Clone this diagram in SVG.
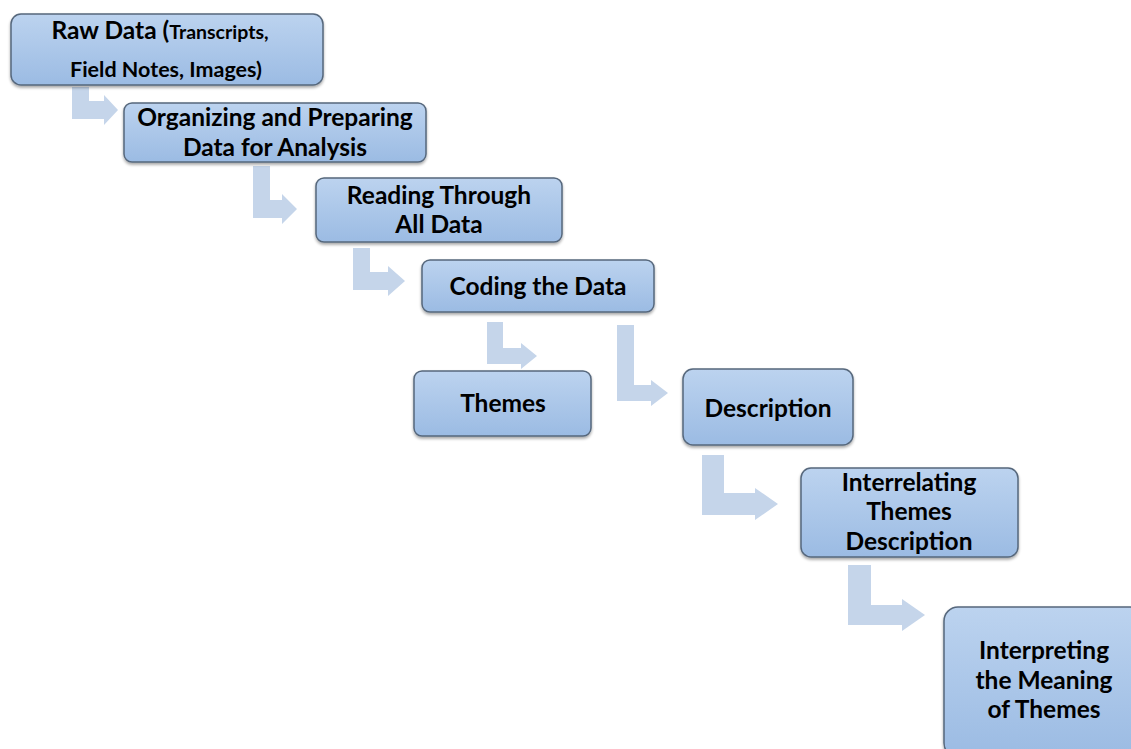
<svg xmlns="http://www.w3.org/2000/svg" width="1131" height="749" viewBox="0 0 1131 749">
<defs>
<linearGradient id="g" x1="0" y1="0" x2="0" y2="1">
<stop offset="0" stop-color="#bcd3ef"/>
<stop offset="1" stop-color="#9bbbe3"/>
</linearGradient>
<filter id="sh" x="-10%" y="-10%" width="120%" height="130%">
<feGaussianBlur in="SourceAlpha" stdDeviation="1.5"/>
<feOffset dx="0" dy="2" result="b"/>
<feComponentTransfer><feFuncA type="linear" slope="0.35"/></feComponentTransfer>
<feMerge><feMergeNode/><feMergeNode in="SourceGraphic"/></feMerge>
</filter>
</defs>
<style>
.box{fill:url(#g);stroke:#56677c;stroke-width:1.5;filter:url(#sh)}
.t{font-family:Lato,"Open Sans",sans-serif;font-weight:bold;font-size:24.5px;fill:#000;text-anchor:middle}
.s{font-size:19.5px}
.m{font-size:21.5px}
.arr{fill:#c5d5ea}
</style>
<rect width="1131" height="749" fill="#fff"/>
<g id="connectors">
<path class="arr" d="M72,87 H89 V101 H104 V95 L118,110 L104,125 V119 H72 Z"/>
<path class="arr" d="M253,166 H270 V200 H282 V194 L297,209 L282,224 V218 H253 Z"/>
<path class="arr" d="M353,248 H370 V272 H388 V266 L405,281 L388,296 V290 H353 Z"/>
<path class="arr" d="M487,322 H503 V348 H521 V343 L537,356 L521,369 V364 H487 Z"/>
<path class="arr" d="M617,325 H634 V385 H651 V380 L668,393 L651,406 V401 H617 Z"/>
<path class="arr" d="M702,455 H724 V493 H755 V488 L778,504 L755,520 V515 H702 Z"/>
<path class="arr" d="M848,565 H871 V605 H902 V599 L925,615 L902,631 V625 H848 Z"/>
</g>
<g id="n1"><rect class="box" x="11" y="14" width="312" height="71" rx="10"/>
<text class="t" x="160" y="39">Raw Data (<tspan class="s">Transcripts,</tspan></text>
<text class="t m" x="166" y="77">Field Notes, Images)</text></g>
<g id="n2"><rect class="box" x="124" y="103" width="302" height="59" rx="8"/>
<text class="t" x="275" y="126">Organizing and Preparing</text>
<text class="t" x="275" y="156">Data for Analysis</text></g>
<g id="n3"><rect class="box" x="316" y="178" width="246" height="64" rx="8"/>
<text class="t" x="439" y="204">Reading Through</text>
<text class="t" x="439" y="233">All Data</text></g>
<g id="n4"><rect class="box" x="422" y="260" width="232" height="52" rx="8"/>
<text class="t" x="538" y="295">Coding the Data</text></g>
<g id="n5"><rect class="box" x="414" y="371" width="177" height="65" rx="8"/>
<text class="t" x="503" y="412">Themes</text></g>
<g id="n6"><rect class="box" x="683" y="369" width="170" height="76" rx="10"/>
<text class="t" x="768" y="417">Description</text></g>
<g id="n7"><rect class="box" x="801" y="468" width="217" height="89" rx="10"/>
<text class="t" x="909" y="491">Interrelating</text>
<text class="t" x="909" y="520">Themes</text>
<text class="t" x="909" y="550">Description</text></g>
<g id="n8"><rect class="box" x="944" y="607" width="200" height="150" rx="14"/>
<text class="t" x="1044" y="659">Interpreting</text>
<text class="t" x="1044" y="689">the Meaning</text>
<text class="t" x="1044" y="718">of Themes</text></g>
</svg>
